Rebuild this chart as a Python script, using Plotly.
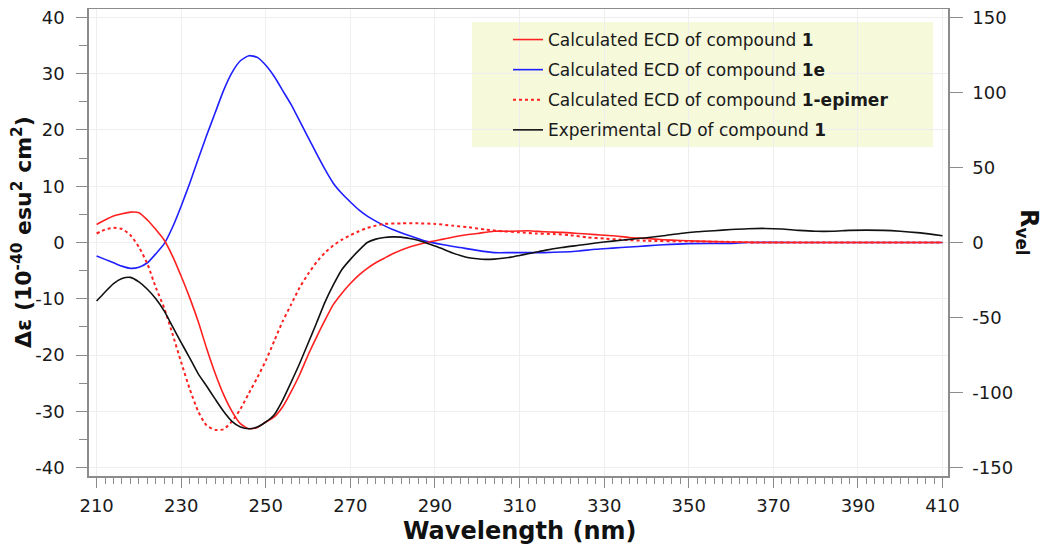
import plotly.graph_objects as go

# ---------------- data ----------------
wl_calc1 = [210, 212, 214, 216, 218, 220, 222, 224, 226, 228, 230, 232, 234, 236, 238, 240, 242, 244, 246, 248,
            250, 252, 254, 256, 258, 260, 262, 264, 266, 268, 270, 272, 274, 276, 278, 280, 284, 288, 292, 296,
            300, 304, 308, 312, 316, 320, 324, 328, 332, 336, 340, 344, 348, 352, 356, 360, 364, 366, 380, 395, 410]
de_calc1 = [3.2, 4.0, 4.7, 5.1, 5.4, 5.3, 4.0, 2.3, 0.4, -2.5, -6.0, -9.8, -14.0, -18.8, -23.2, -27.0, -30.0, -32.2, -33.1, -32.9,
            -31.9, -31.0, -29.2, -26.5, -23.5, -20.0, -16.8, -13.8, -11.0, -9.0, -7.3, -5.8, -4.6, -3.6, -2.8, -2.0, -0.8, 0.0, 0.6, 1.2,
            1.6, 2.0, 2.0, 2.1, 1.9, 1.8, 1.6, 1.4, 1.2, 0.9, 0.7, 0.5, 0.35, 0.25, 0.15, 0.1, 0.05, 0.0, 0.0, 0.0, 0.0]

wl_calc1e = [210, 212, 214, 216, 218, 220, 222, 224, 226, 228, 230, 232, 234, 236, 238, 240, 242, 244, 246, 248,
             250, 252, 254, 256, 258, 260, 262, 264, 266, 268, 270, 272, 274, 276, 278, 280, 284, 288, 292, 296,
             300, 304, 308, 312, 316, 320, 324, 328, 332, 336, 340, 344, 350, 360, 364, 380, 395, 410]
de_calc1e = [-2.4, -3.0, -3.6, -4.2, -4.6, -4.4, -3.6, -2.0, -0.2, 2.8, 6.5, 10.5, 14.8, 19.0, 23.0, 27.0, 30.2, 32.3, 33.2, 32.9,
             31.5, 29.5, 27.0, 24.5, 21.6, 18.7, 15.8, 13.0, 10.5, 8.7, 7.2, 5.8, 4.7, 3.8, 3.0, 2.3, 1.2, 0.2, -0.4, -0.9,
             -1.4, -1.8, -1.8, -1.8, -1.8, -1.7, -1.5, -1.2, -1.0, -0.8, -0.6, -0.4, -0.2, -0.15, 0.0, 0.0, 0.0, 0.0]

wl_epimer = [210, 212, 214, 216, 218, 220, 222, 224, 226, 228, 230, 232, 234, 236, 238, 240, 242, 244, 246, 248,
             250, 252, 254, 256, 258, 260, 262, 264, 266, 268, 270, 272, 274, 276, 278, 282, 286, 290, 294, 298,
             302, 306, 310, 314, 318, 322, 326, 330, 334, 340, 350, 360, 366, 380, 395, 410]
de_epimer = [1.6, 2.3, 2.6, 2.4, 1.3, -0.8, -3.8, -8.0, -11.7, -16.4, -21.3, -26.0, -30.0, -32.5, -33.3, -33.2, -31.8, -29.6, -26.8, -24.0,
             -21.0, -17.5, -14.0, -11.0, -8.0, -5.6, -3.5, -1.8, -0.5, 0.5, 1.3, 2.0, 2.6, 3.0, 3.3, 3.4, 3.4, 3.3, 3.0, 2.7,
             2.3, 2.0, 1.8, 1.6, 1.5, 1.3, 0.9, 0.7, 0.5, 0.3, 0.2, 0.1, 0.0, 0.0, 0.0, 0.0]

wl_exp = [210, 212, 214, 216, 218, 220, 222, 224, 226, 228, 230, 232, 234, 236, 238, 240, 242, 244, 246, 248,
          250, 252, 254, 256, 258, 260, 262, 264, 266, 268, 270, 272, 274, 276, 278, 280, 282, 284, 286, 288,
          290, 292, 294, 296, 298, 300, 302, 304, 306, 308, 310, 312, 314, 316, 320, 324, 328, 332, 336, 340,
          344, 348, 352, 356, 360, 364, 368, 372, 376, 380, 384, 388, 392, 396, 400, 404, 408, 410]
de_exp = [-10.4, -8.8, -7.3, -6.4, -6.2, -7.0, -8.3, -10.0, -12.2, -15.0, -17.8, -20.5, -23.3, -25.5, -27.8, -30.0, -31.8, -32.8, -33.1, -32.8,
          -31.9, -30.6, -28.0, -24.8, -21.5, -17.9, -14.3, -10.6, -7.5, -4.8, -3.0, -1.4, 0.0, 0.6, 0.9, 1.0, 0.95, 0.7, 0.4, -0.1,
          -0.6, -1.2, -1.8, -2.3, -2.7, -2.9, -3.0, -2.95, -2.8, -2.6, -2.3, -2.0, -1.7, -1.4, -0.9, -0.5, -0.1, 0.25, 0.55, 0.85,
          1.2, 1.6, 1.9, 2.1, 2.3, 2.45, 2.5, 2.4, 2.15, 2.0, 2.0, 2.15, 2.2, 2.15, 2.0, 1.75, 1.4, 1.2]

x_ticks = [210, 230, 250, 270, 290, 310, 330, 350, 370, 390, 410]
y_ticks = [-40, -30, -20, -10, 0, 10, 20, 30, 40]
y_ticktext = ["-40", "-30", "-20", "-10", "0", "10", "20", "30", "40"]
y2_ticks = [-150, -100, -50, 0, 50, 100, 150]
y2_ticktext = ["-150", "-100", "-50", "0", "50", "100", "150"]

names = ["Calculated ECD of compound <b>1</b>",
         "Calculated ECD of compound <b>1e</b>",
         "Calculated ECD of compound <b>1-epimer</b>",
         "Experimental CD of compound <b>1</b>"]

# ---------------- figure ----------------
FONT = "DejaVu Sans"
AX = "#8c8c8c"
GRID = "#eeeeee"

fig = go.Figure()
fig.add_trace(go.Scatter(x=wl_calc1e, y=de_calc1e, mode="lines", name=names[1], legendrank=2, legendgroup="b",
                         line=dict(color="#1e1eff", width=1.6, shape="spline", smoothing=0.6)))
fig.add_trace(go.Scatter(x=wl_calc1, y=de_calc1, mode="lines", name=names[0], legendrank=1, legendgroup="a",
                         line=dict(color="#ff2020", width=1.6, shape="spline", smoothing=0.6)))
fig.add_trace(go.Scatter(x=wl_epimer, y=de_epimer, mode="lines", name=names[2], legendrank=3, legendgroup="c",
                         line=dict(color="#ff2020", width=2, dash="dot", shape="spline", smoothing=0.6)))
fig.add_trace(go.Scatter(x=wl_exp, y=de_exp, mode="lines", name=names[3], legendrank=4, legendgroup="d",
                         line=dict(color="#111111", width=1.6, shape="spline", smoothing=0.6)))
# invisible trace to activate right axis
fig.add_trace(go.Scatter(x=[210], y=[0], yaxis="y2", mode="lines", showlegend=False, hoverinfo="skip",
                         line=dict(color="rgba(0,0,0,0)")))

# page body has an 8px margin: figure is placed at (8, 8) in the window
OFF = 8
W, H = 1042, 547
PL, PR, PT, PB = 89, 948, 9, 476          # plot area in window pixels
L, T = PL - OFF, PT - OFF
R, B = OFF + W - PR, OFF + H - PB
PW, PH = PR - PL, PB - PT

def px(xs):
    return (xs - PL) / PW

def py(ys):
    return (PB - ys) / PH

fig.update_layout(
    width=W, height=H,
    margin=dict(l=L, r=R, t=T, b=B, autoexpand=False),
    paper_bgcolor="white", plot_bgcolor="white",
    font=dict(family=FONT, size=18, color="#1a1a1a"),
    showlegend=True,
    legend=dict(x=px(508), y=py(22), xanchor="left", yanchor="top",
                bgcolor="rgba(0,0,0,0)", borderwidth=0,
                font=dict(family=FONT, size=17, color="#1a1a1a"),
                tracegroupgap=5, traceorder="grouped"),
    xaxis=dict(range=[208.2, 411.3], tickmode="array", tickvals=x_ticks,
               ticks="outside", ticklen=10, tickwidth=1, tickcolor=AX,
               showline=True, linecolor=AX, linewidth=1.5, mirror=True,
               showgrid=True, gridcolor=GRID, gridwidth=1, zeroline=False,
               ticklabelstandoff=3, ticklabeloverflow="allow",
               minor=dict(dtick=2, tick0=210, ticks="outside", ticklen=6, tickcolor=AX, showgrid=False),
               tickfont=dict(family=FONT, size=18, color="#1a1a1a")),
    yaxis=dict(range=[-41.5, 41.5], tickmode="array", tickvals=y_ticks, ticktext=y_ticktext,
               ticks="outside", ticklen=11, tickwidth=1, tickcolor=AX,
               showline=True, linecolor=AX, linewidth=1.5,
               showgrid=True, gridcolor=GRID, gridwidth=1, zeroline=False,
               ticklabelstandoff=8, ticklabeloverflow="allow",
               minor=dict(dtick=5, tick0=0, ticks="outside", ticklen=8, tickcolor=AX, showgrid=False),
               tickfont=dict(family=FONT, size=18, color="#1a1a1a")),
    yaxis2=dict(range=[-41.5 * 3.75, 41.5 * 3.75], overlaying="y", side="right",
                tickmode="array", tickvals=y2_ticks, ticktext=y2_ticktext,
                ticks="outside", ticklen=13, tickwidth=1, tickcolor=AX,
                showline=True, linecolor=AX, linewidth=1.5,
                showgrid=False, zeroline=False, ticklabelstandoff=6, ticklabeloverflow="allow",
                tickfont=dict(family=FONT, size=18, color="#1a1a1a")),
    shapes=[dict(type="rect", xref="paper", yref="paper",
                 x0=px(472), x1=px(933), y0=py(147), y1=py(22),
                 fillcolor="#f6fadb", line=dict(width=0), layer="between")],
    annotations=[
        dict(text="<b>Wavelength (nm)</b>", xref="paper", yref="paper", x=px(519), y=py(531),
             xanchor="center", yanchor="middle", showarrow=False,
             font=dict(family=FONT, size=24, color="#111111")),
        dict(text="<b>Δε (10<sup>-40</sup> esu<sup>2</sup> cm<sup>2</sup>)</b>", xref="paper", yref="paper",
             x=px(22), y=py(232), xanchor="center", yanchor="middle", textangle=-90, showarrow=False,
             font=dict(family=FONT, size=22, color="#111111")),
        dict(text="<b>R<sub>vel</sub></b>", xref="paper", yref="paper",
             x=px(1028), y=py(232), xanchor="center", yanchor="middle", textangle=90, showarrow=False,
             font=dict(family=FONT, size=24, color="#111111")),
    ],
)

fig.write_html("out.html")
